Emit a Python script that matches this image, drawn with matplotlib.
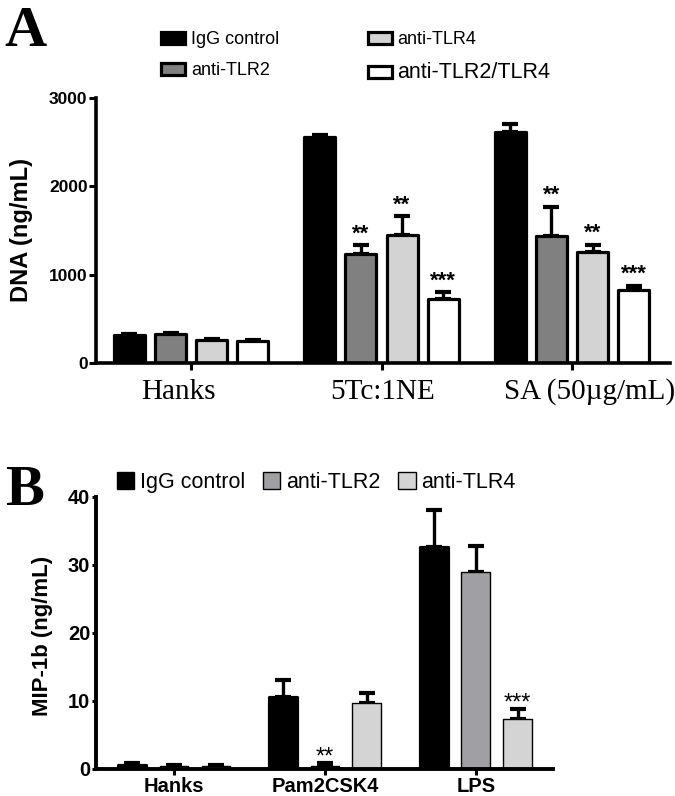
import numpy as np
import matplotlib.pyplot as plt
from matplotlib.patches import Patch

# panel A data
groups_a = ['Hanks', '5Tc:1NE', 'SA (50\u00b5g/mL)']
label_shift_a = [-0.068, 0.005, 0.09]   # labels sit a little off the ticks
series_a = ['IgG control', 'anti-TLR2', 'anti-TLR4', 'anti-TLR2/TLR4']
dna_mean = [[315, 2560, 2610],
            [330, 1230, 1440],
            [265, 1450, 1260],
            [245, 720, 830]]
dna_err = [[15, 20, 100],
           [12, 105, 330],
           [10, 215, 80],
           [10, 85, 45]]
stars_a = [['', '', ''],
           ['', '**', '**'],
           ['', '**', '**'],
           ['', '***', '***']]

# panel B data
groups_b = ['Hanks', 'Pam2CSK4', 'LPS']
series_b = ['IgG control', 'anti-TLR2', 'anti-TLR4']
mip_mean = [[0.6, 10.6, 32.6],
            [0.4, 0.5, 28.9],
            [0.4, 9.7, 7.3]]
mip_err = [[0.2, 2.4, 5.5],
           [0.2, 0.3, 3.9],
           [0.2, 1.4, 1.5]]
stars_b = [['', '', ''],
           ['', '**', ''],
           ['', '', '***']]

colors_a = ['black', '#808080', '#d3d3d3', 'white']
colors_b = ['black', '#a0a0a4', '#d4d4d4']

sans = 'Liberation Sans'
serif = 'Liberation Serif'

fig = plt.figure(figsize=(6.75, 7.96), dpi=100)

# ---------------- panel A ----------------
ax = fig.add_axes([0.142, 0.544, 0.851, 0.333])
x = np.arange(len(groups_a))
pitch, width = 0.216, 0.163
for i, name in enumerate(series_a):
    xs = x + (i - 1.5) * pitch
    ax.errorbar(xs, dna_mean[i], yerr=[np.zeros(3), dna_err[i]], fmt='none',
                ecolor='black', elinewidth=2.4, capsize=6, capthick=3, zorder=1)
    bars = ax.bar(xs, dna_mean[i], width, color=colors_a[i], edgecolor='black',
                  linewidth=2.3, label=name, zorder=2)
    for b in bars:
        b.set_joinstyle('round')
    for j, s in enumerate(stars_a[i]):
        if s:
            ax.annotate(s, (xs[j], dna_mean[i][j] + dna_err[i][j]),
                        xytext=(0, 4), textcoords='offset points',
                        ha='center', va='baseline', fontsize=16,
                        fontweight='bold', family=sans)

ax.set_xlim(-0.5, 2.516)
ax.set_ylim(0, 3000)
ax.set_yticks([0, 1000, 2000, 3000])
ax.set_xticks(x)
ax.set_xticklabels([])
for k, g in enumerate(groups_a):
    ax.text(x[k] + label_shift_a[k], -0.136, g, transform=ax.get_xaxis_transform(),
            ha='center', va='baseline', family=serif, fontsize=21)
ax.tick_params(axis='x', direction='out', length=5, width=2.2)
ax.tick_params(axis='y', direction='out', length=5, width=2.2, pad=1,
               labelsize=12.5)
for lab in ax.get_yticklabels():
    lab.set_family(sans)
    lab.set_fontweight('bold')
ax.set_ylabel('DNA (ng/mL)', family=sans, fontweight='bold', fontsize=17)
ax.yaxis.set_label_coords(-0.11, 0.5)
for side in ['top', 'right']:
    ax.spines[side].set_visible(False)
for side in ['left', 'bottom']:
    ax.spines[side].set_linewidth(2.6)

leg = ax.legend(ncol=2, loc='upper left', bbox_to_anchor=(161 / 675, 1 - 31 / 796),
                bbox_transform=fig.transFigure, frameon=False,
                prop={'family': sans, 'size': 13}, handlelength=1.35,
                handleheight=0.65, handletextpad=0.3, columnspacing=4.9,
                labelspacing=0.8, borderpad=0, borderaxespad=0)
leg.get_texts()[3].set_fontsize(15.5)

fig.text(0.007, 1 - 46 / 796, 'A', family=serif, fontweight='bold', fontsize=42)

# ---------------- panel B ----------------
bx = fig.add_axes([0.142, 0.034, 0.677, 0.342])
x = np.arange(len(groups_b))
pitch, width = 0.278, 0.19
for i, name in enumerate(series_b):
    xs = x + (i - 1) * pitch
    bx.errorbar(xs, mip_mean[i], yerr=[np.zeros(3), mip_err[i]], fmt='none',
                ecolor='black', elinewidth=2.4, capsize=6, capthick=3, zorder=1)
    lw = 2.3 if i == 0 else 1.0
    bars = bx.bar(xs, mip_mean[i], width, color=colors_b[i], edgecolor='black',
                  linewidth=lw, label=name, zorder=2)
    for b in bars:
        b.set_joinstyle('round')
    for j, s in enumerate(stars_b[i]):
        if s:
            bx.annotate(s, (xs[j], mip_mean[i][j] + mip_err[i][j]),
                        xytext=(0, 0), textcoords='offset points',
                        ha='center', va='baseline', fontsize=17,
                        family=sans)

bx.set_xlim(-0.517, 2.51)
bx.set_ylim(0, 40)
bx.set_yticks([0, 10, 20, 30, 40])
bx.set_xticks(x)
bx.set_xticklabels(groups_b, family=sans, fontweight='bold', fontsize=14.5)
bx.tick_params(axis='x', direction='out', length=4, width=2.2, pad=2)
bx.tick_params(axis='y', direction='out', length=3, width=2.2, pad=1,
               labelsize=14.5)
for lab in bx.get_yticklabels():
    lab.set_family(sans)
    lab.set_fontweight('bold')
bx.set_ylabel('MIP-1b (ng/mL)', family=sans, fontweight='bold', fontsize=16)
bx.yaxis.set_label_coords(-0.094, 0.49)
for side in ['top', 'right']:
    bx.spines[side].set_visible(False)
for side in ['left', 'bottom']:
    bx.spines[side].set_linewidth(2.8)

handles_b = [Patch(facecolor=c, edgecolor='black', linewidth=1.0) for c in colors_b]
bx.legend(handles_b, series_b, ncol=3, loc='upper left',
          bbox_to_anchor=(117 / 675, 1 - 472 / 796), bbox_transform=fig.transFigure,
          frameon=False, prop={'family': sans, 'size': 15.5}, handlelength=0.8,
          handleheight=0.8, handletextpad=0.25, columnspacing=0.85,
          borderpad=0, borderaxespad=0)

fig.text(0.007, 1 - 505 / 796, 'B', family=serif, fontweight='bold', fontsize=42)

fig.savefig('out.png', dpi=100)
